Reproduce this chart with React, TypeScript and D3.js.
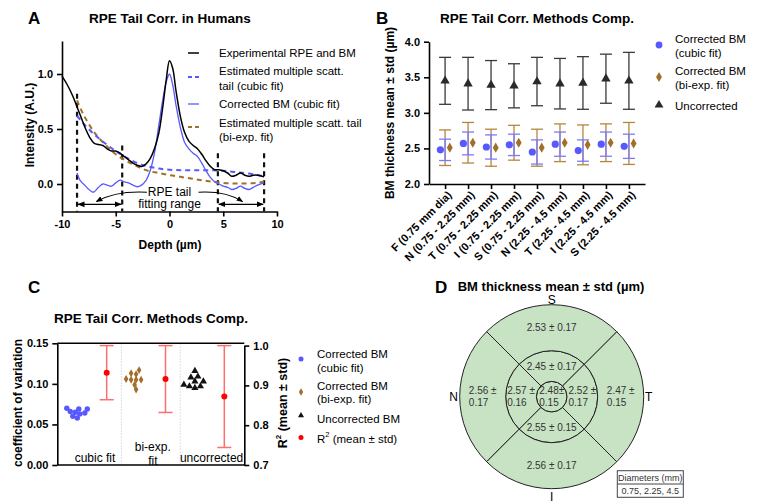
import React, { useEffect, useRef } from "react";
import * as d3 from "d3";

const FONT = "'Liberation Sans', Arial, Helvetica, sans-serif";

const BLUE = "#5858ff";
const BLUE_BAR = "#7a7aff";
const BROWN = "#a26f28";
const BROWN_BAR = "#b5853e";
const RED = "#ff0000";
const RED_BAR = "#ff6e6e";
const GREEN = "#c8e3c4";

// ---- Panel A: intensity profiles vs depth ----
const expDepth = [-10, -9.5, -9, -8.6, -8.2, -7.8, -7.4, -7, -6.6, -6.2, -5.8, -5.4, -5, -4.6, -4.2, -3.8, -3.4, -3, -2.6, -2.2, -1.8, -1.4, -1, -0.6, -0.3, 0, 0.3, 0.6, 1, 1.4, 1.8, 2.2, 2.6, 3, 3.4, 3.8, 4.2, 4.6, 5, 5.4, 5.8, 6.2, 6.6, 7, 7.4, 7.8, 8.2, 8.8];
const expIntensity = [0.98, 0.9, 0.8, 0.7, 0.6, 0.5, 0.42, 0.37, 0.36, 0.35, 0.32, 0.3, 0.3, 0.28, 0.25, 0.22, 0.19, 0.17, 0.16, 0.18, 0.23, 0.32, 0.46, 0.72, 0.95, 1.12, 1.05, 0.85, 0.62, 0.47, 0.39, 0.35, 0.32, 0.27, 0.21, 0.16, 0.13, 0.13, 0.12, 0.1, 0.07, 0.08, 0.1, 0.08, 0.07, 0.08, 0.08, 0.065];

const corrDepth = [-8.6, -8.3, -8, -7.6, -7.1, -6.6, -6.2, -5.8, -5.4, -5, -4.6, -4.2, -3.8, -3.4, -3, -2.6, -2.2, -1.8, -1.4, -1, -0.6, -0.3, 0, 0.3, 0.6, 1, 1.4, 1.8, 2.2, 2.6, 3, 3.4, 3.8, 4.2, 4.6, 5, 5.4, 5.8, 6.2, 6.6, 7, 7.4, 7.8, 8.2, 8.8];
const corrIntensity = [0.1, 0.03, 0.0, -0.04, -0.075, -0.03, 0.0, -0.01, -0.02, 0.01, 0.035, 0.02, 0.01, -0.01, -0.025, -0.01, 0.03, 0.12, 0.28, 0.53, 0.78, 0.93, 1.0, 0.9, 0.72, 0.52, 0.38, 0.32, 0.28, 0.25, 0.19, 0.12, 0.06, 0.02, 0.0, -0.02, -0.03, -0.05, -0.04, -0.02, -0.04, -0.05, -0.03, -0.01, 0.01];

const tailDepth = [-8.6, -8, -7, -6, -5, -4, -3, -2, -1, 0, 1, 2, 3, 4, 5, 6, 7, 8, 8.8];
const cubicTail = [0.62, 0.55, 0.45, 0.37, 0.3, 0.24, 0.19, 0.16, 0.14, 0.13, 0.125, 0.125, 0.125, 0.125, 0.12, 0.11, 0.1, 0.085, 0.07];
const biexpTail = [0.76, 0.63, 0.47, 0.36, 0.27, 0.21, 0.16, 0.12, 0.1, 0.08, 0.065, 0.05, 0.035, 0.02, 0.01, 0.005, 0.005, 0.01, 0.02];

const fitRanges = [[-8.6, -4.4], [4.5, 8.8]];
const fitMarkerTop = [0.82, 0.35, 0.28, 0.28];

// ---- Panel B / D: BM thickness per ETDRS region (µm) ----
const regions = ["F (0.75 mm dia)", "N (0.75 - 2.25 mm)", "T (0.75 - 2.25 mm)", "I (0.75 - 2.25 mm)", "S (0.75 - 2.25 mm)", "N (2.25 - 4.5 mm)", "T (2.25 - 4.5 mm)", "I (2.25 - 4.5 mm)", "S (2.25 - 4.5 mm)"];
const cubicMean = [2.48, 2.57, 2.52, 2.55, 2.45, 2.56, 2.47, 2.56, 2.53];
const cubicStd = [0.15, 0.16, 0.17, 0.15, 0.17, 0.17, 0.15, 0.17, 0.17];
const biexpMean = [2.51, 2.58, 2.51, 2.58, 2.51, 2.58, 2.55, 2.58, 2.57];
const biexpStd = [0.25, 0.285, 0.26, 0.245, 0.26, 0.265, 0.28, 0.265, 0.295];
const uncMean = [3.45, 3.41, 3.39, 3.38, 3.44, 3.41, 3.42, 3.48, 3.45];
const uncStd = [0.33, 0.37, 0.345, 0.31, 0.34, 0.355, 0.37, 0.345, 0.4];

// ---- Panel C: coefficient of variation + R² ----
const methods = ["cubic fit", "bi-exp. fit", "uncorrected"];
const cvCubic = [0.058, 0.069, 0.07, 0.064, 0.063, 0.069, 0.065, 0.066, 0.06];
const cvBiexp = [0.112, 0.117, 0.113, 0.099, 0.106, 0.105, 0.105, 0.105, 0.093];
const cvUnc = [0.116, 0.109, 0.108, 0.103, 0.103, 0.099, 0.097, 0.097, 0.095];
const r2Mean = [0.932, 0.916, 0.872];
const r2Std = [0.068, 0.084, 0.128];

const diameters = [0.75, 2.25, 4.5];

const styleAxis = (g, size = 11) => {
    g.attr("font-family", FONT).attr("font-size", size).attr("font-weight", "bold");
    g.selectAll("path.domain").attr("stroke", "#000").attr("stroke-width", 1.6);
    g.selectAll(".tick line").attr("stroke", "#000").attr("stroke-width", 1.6);
    g.selectAll(".tick text").attr("fill", "#000");
};

const addText = (g, x, y, str, size, opts = {}) => {
    return g
        .append("text")
        .attr("x", x)
        .attr("y", y)
        .attr("font-family", FONT)
        .attr("font-size", size)
        .attr("font-weight", opts.bold ? "bold" : "normal")
        .attr("text-anchor", opts.anchor || "start")
        .attr("dominant-baseline", "central")
        .attr("fill", opts.fill || "#000")
        .text(str);
};

// simple beeswarm, like the column scatter of the original
const swarmX = (vals, y, cx, r) => {
    const order = d3.range(vals.length).sort((a, b) => vals[a] - vals[b]);
    const placed = [];
    const xs = new Array(vals.length);
    order.forEach((i) => {
        const py = y(vals[i]);
        let off = 0;
        for (let k = 0; k < 400; k++) {
            const o = (k % 2 === 0 ? 1 : -1) * Math.ceil(k / 2) * 0.5;
            const ok = placed.every((p) => (p.x - (cx + o)) ** 2 + (p.y - py) ** 2 >= (2 * r) ** 2);
            if (ok) {
                off = o;
                break;
            }
        }
        xs[i] = cx + off;
        placed.push({ x: cx + off, y: py });
    });
    return xs;
};

const drawPanelA = (svg) => {
    const g = svg.append("g");
    const x = d3.scaleLinear().domain([-10, 10]).range([62, 277]);
    const y = d3.scaleLinear().domain([-0.25, 1.3]).range([211.5, 41]);

    addText(g, 28, 18, "A", 17, { bold: true });
    addText(g, 170, 18, "RPE Tail Corr. in Humans", 13.5, { bold: true, anchor: "middle" });

    const gx = g
        .append("g")
        .attr("transform", `translate(0,${y(-0.25)})`)
        .call(d3.axisBottom(x).tickValues([-10, -5, 0, 5, 10]).tickSize(5).tickSizeOuter(0).tickPadding(4).tickFormat((d) => String(d)));
    styleAxis(gx);
    const gy = g
        .append("g")
        .attr("transform", `translate(${x(-10)},0)`)
        .call(d3.axisLeft(y).tickValues([0, 0.5, 1]).tickSize(5).tickSizeOuter(0).tickPadding(4).tickFormat(d3.format(".1f")));
    styleAxis(gy);

    addText(g, 170, 245, "Depth (µm)", 12, { bold: true, anchor: "middle" });
    addText(g, 0, 0, "Intensity (A.U.)", 12, { bold: true, anchor: "middle" }).attr("transform", "translate(30,125) rotate(-90)");

    const line = d3.line().curve(d3.curveCatmullRom.alpha(0.5));
    const pts = (xs, ys) => xs.map((d, i) => [x(d), y(ys[i])]);

    // fitting range markers
    const markerX = fitRanges.flat();
    markerX.forEach((d, i) => {
        g.append("line")
            .attr("x1", x(d)).attr("x2", x(d))
            .attr("y1", y(fitMarkerTop[i])).attr("y2", y(-0.25))
            .attr("stroke", "#111").attr("stroke-width", 2.2).attr("stroke-dasharray", "5,4");
    });

    g.append("path").attr("d", line(pts(tailDepth, biexpTail))).attr("fill", "none").attr("stroke", BROWN).attr("stroke-width", 2).attr("stroke-dasharray", "5,4");
    g.append("path").attr("d", line(pts(tailDepth, cubicTail))).attr("fill", "none").attr("stroke", BLUE).attr("stroke-width", 2).attr("stroke-dasharray", "5,4");
    g.append("path").attr("d", line(pts(corrDepth, corrIntensity))).attr("fill", "none").attr("stroke", BLUE).attr("stroke-width", 1.3);
    g.append("path").attr("d", line(pts(expDepth, expIntensity))).attr("fill", "none").attr("stroke", "#000").attr("stroke-width", 1.5);

    // arrows
    const defs = svg.append("defs");
    defs.append("marker")
        .attr("id", "arrA").attr("viewBox", "0 0 10 10").attr("refX", 9).attr("refY", 5)
        .attr("markerWidth", 6).attr("markerHeight", 6).attr("orient", "auto-start-reverse")
        .append("path").attr("d", "M0,1 L10,5 L0,9 Z").attr("fill", "#000");

    const arrowY = y(-0.185);
    fitRanges.forEach(([a, b]) => {
        g.append("line")
            .attr("x1", x(a) + 1).attr("x2", x(b) - 1).attr("y1", arrowY).attr("y2", arrowY)
            .attr("stroke", "#000").attr("stroke-width", 1.2)
            .attr("marker-start", "url(#arrA)").attr("marker-end", "url(#arrA)");
    });
    addText(g, x(0), y(-0.07), "RPE tail", 12, { anchor: "middle" });
    addText(g, x(0), y(-0.185), "fitting range", 12, { anchor: "middle" });
    const curveL = d3.path();
    curveL.moveTo(x(-2.1), y(-0.075));
    curveL.quadraticCurveTo(x(-5), y(-0.06), x(-6.8), y(-0.16));
    const curveR = d3.path();
    curveR.moveTo(x(2.7), y(-0.075));
    curveR.quadraticCurveTo(x(5.2), y(-0.06), x(6.8), y(-0.16));
    [curveL, curveR].forEach((p) => {
        g.append("path").attr("d", p.toString()).attr("fill", "none").attr("stroke", "#000").attr("stroke-width", 1.1).attr("marker-end", "url(#arrA)");
    });

    // legend
    const lg = g.append("g");
    const sample = (yy, color, dashed, w) =>
        lg.append("line").attr("x1", 188).attr("x2", 199).attr("y1", yy).attr("y2", yy)
            .attr("stroke", color).attr("stroke-width", w).attr("stroke-dasharray", dashed ? "4,3" : null);
    sample(53, "#000", false, 1.5);
    addText(lg, 219, 53, "Experimental RPE and BM", 11.5);
    sample(77, BLUE, true, 2);
    addText(lg, 219, 71, "Estimated multiple scatt.", 11.5);
    addText(lg, 219, 86, "tail (cubic fit)", 11.5);
    sample(104, BLUE, false, 1.3);
    addText(lg, 219, 104, "Corrected BM (cubic fit)", 11.5);
    sample(127, BROWN, true, 2);
    addText(lg, 219, 123, "Estimated multiple scatt. tail", 11.5);
    addText(lg, 219, 137, "(bi-exp. fit)", 11.5);
};

const drawPanelB = (svg) => {
    const g = svg.append("g");
    const x = d3.scalePoint().domain(regions).range([429, 645]).padding(0.7);
    const y = d3.scaleLinear().domain([2, 4]).range([184, 41.7]);

    addText(g, 376, 18, "B", 17, { bold: true });
    addText(g, 537, 18, "RPE Tail Corr. Methods Comp.", 13.5, { bold: true, anchor: "middle" });

    const gx = g.append("g").attr("transform", `translate(0,${y(2)})`)
        .call(d3.axisBottom(x).tickSize(5).tickSizeOuter(0));
    styleAxis(gx, 11);
    gx.selectAll(".tick text")
        .attr("x", 0).attr("y", 0).attr("dy", "0.35em")
        .attr("text-anchor", "end")
        .attr("transform", "translate(4,9) rotate(-45)");
    const gy = g.append("g").attr("transform", `translate(429,0)`)
        .call(d3.axisLeft(y).tickValues([2, 2.5, 3, 3.5, 4]).tickSize(5).tickSizeOuter(0).tickPadding(4).tickFormat(d3.format(".1f")));
    styleAxis(gy);
    addText(g, 0, 0, "BM thickness mean ± std (µm)", 12, { bold: true, anchor: "middle" }).attr("transform", "translate(390,113) rotate(-90)");

    const errBar = (cx, m, s, color, w) => {
        const eg = g.append("g").attr("stroke", color).attr("stroke-width", w);
        eg.append("line").attr("x1", cx).attr("x2", cx).attr("y1", y(m - s)).attr("y2", y(m + s));
        [m - s, m + s].forEach((v) => eg.append("line").attr("x1", cx - 6).attr("x2", cx + 6).attr("y1", y(v)).attr("y2", y(v)));
    };

    regions.forEach((r, i) => {
        const cx = x(r);
        errBar(cx, uncMean[i], uncStd[i], "#3a3a3a", 1.3);
        errBar(cx, biexpMean[i], biexpStd[i], BROWN_BAR, 1.3);
        errBar(cx, cubicMean[i], cubicStd[i], BLUE_BAR, 1.3);
        g.append("path").attr("d", d3.symbol(d3.symbolTriangle, 38)()).attr("transform", `translate(${cx},${y(uncMean[i])})`).attr("fill", "#2a2a2a");
        g.append("path").attr("d", d3.symbol(d3.symbolDiamond, 30)()).attr("transform", `translate(${cx + 4.7},${y(biexpMean[i])})`).attr("fill", BROWN);
        g.append("circle").attr("cx", cx - 4.7).attr("cy", y(cubicMean[i])).attr("r", 3.6).attr("fill", BLUE);
    });

    // legend
    g.append("circle").attr("cx", 659).attr("cy", 45).attr("r", 3.4).attr("fill", BLUE);
    addText(g, 675, 39, "Corrected BM", 11.5);
    addText(g, 675, 53, "(cubic fit)", 11.5);
    g.append("path").attr("d", d3.symbol(d3.symbolDiamond, 30)()).attr("transform", "translate(659,77)").attr("fill", BROWN);
    addText(g, 675, 71, "Corrected BM", 11.5);
    addText(g, 675, 84.5, "(bi-exp. fit)", 11.5);
    g.append("path").attr("d", d3.symbol(d3.symbolTriangle, 34)()).attr("transform", "translate(659,105)").attr("fill", "#2a2a2a");
    addText(g, 675, 105.5, "Uncorrected", 11.5);
};

const drawPanelC = (svg) => {
    const g = svg.append("g");
    const cols = ["cubicCV", "cubicR2", "biexpCV", "biexpR2", "uncCV", "uncR2"];
    const x = d3.scalePoint().domain(cols).range([57.3, 244.3]).padding(0.68);
    const yL = d3.scaleLinear().domain([0, 0.15]).range([465, 343.3]);
    const yR = d3.scaleLinear().domain([0.7, 1.0]).range([465, 345.6]);

    addText(g, 28, 287, "C", 17, { bold: true });
    addText(g, 151, 318, "RPE Tail Corr. Methods Comp.", 13.5, { bold: true, anchor: "middle" });

    // group dividers
    const step = x.step();
    [1, 3].forEach((i) => {
        const xx = x(cols[i]) + step / 2;
        g.append("line").attr("x1", xx).attr("x2", xx).attr("y1", 343.3).attr("y2", 465)
            .attr("stroke", "#c8c8c8").attr("stroke-width", 0.8).attr("stroke-dasharray", "1.5,1.5");
    });

    const gl = g.append("g").attr("transform", "translate(57.3,0)")
        .call(d3.axisLeft(yL).tickValues([0, 0.05, 0.1, 0.15]).tickSize(5).tickSizeOuter(0).tickPadding(4).tickFormat(d3.format(".2f")));
    styleAxis(gl);
    const gr = g.append("g").attr("transform", "translate(244.3,0)")
        .call(d3.axisRight(yR).tickValues([0.7, 0.8, 0.9, 1.0]).tickSize(5).tickSizeOuter(0).tickPadding(4).tickFormat(d3.format(".1f")));
    styleAxis(gr);
    g.append("line").attr("x1", 57.3).attr("x2", 244.3).attr("y1", 465).attr("y2", 465).attr("stroke", "#000").attr("stroke-width", 1.6);
    g.append("line").attr("x1", 57.3).attr("x2", 244.3).attr("y1", 343.3).attr("y2", 343.3).attr("stroke", "#000").attr("stroke-width", 1.6);

    addText(g, 0, 0, "coefficient of variation", 12, { bold: true, anchor: "middle" }).attr("transform", "translate(18,403) rotate(-90)");
    const r2Label = addText(g, 0, 0, "", 12.5, { bold: true, anchor: "middle" }).attr("transform", "translate(283,403) rotate(-90)");
    r2Label.append("tspan").text("R");
    r2Label.append("tspan").text("2").attr("font-size", 8).attr("dy", -5);
    r2Label.append("tspan").text(" (mean ± std)").attr("dy", 5);

    // scatter columns
    const xs1 = swarmX(cvCubic, yL, x("cubicCV"), 2.3);
    cvCubic.forEach((v, i) => g.append("circle").attr("cx", xs1[i]).attr("cy", yL(v)).attr("r", 2.7).attr("fill", BLUE));
    const xs2 = swarmX(cvBiexp, yL, x("biexpCV"), 2.5);
    cvBiexp.forEach((v, i) => g.append("path").attr("d", d3.symbol(d3.symbolDiamond, 18)()).attr("transform", `translate(${xs2[i]},${yL(v)})`).attr("fill", BROWN));
    const xs3 = swarmX(cvUnc, yL, x("uncCV"), 2.8);
    cvUnc.forEach((v, i) => g.append("path").attr("d", d3.symbol(d3.symbolTriangle, 22)()).attr("transform", `translate(${xs3[i]},${yL(v)})`).attr("fill", "#111"));

    // R² mean ± std
    ["cubicR2", "biexpR2", "uncR2"].forEach((c, i) => {
        const cx = x(c);
        const eg = g.append("g").attr("stroke", RED_BAR).attr("stroke-width", 1.5);
        eg.append("line").attr("x1", cx).attr("x2", cx).attr("y1", yR(r2Mean[i] - r2Std[i])).attr("y2", yR(r2Mean[i] + r2Std[i]));
        [r2Mean[i] - r2Std[i], r2Mean[i] + r2Std[i]].forEach((v) =>
            eg.append("line").attr("x1", cx - 7).attr("x2", cx + 7).attr("y1", yR(v)).attr("y2", yR(v)));
        g.append("circle").attr("cx", cx).attr("cy", yR(r2Mean[i])).attr("r", 3).attr("fill", RED);
    });

    // method labels
    addText(g, (x("cubicCV") + x("cubicR2")) / 2 + 3, 457.5, methods[0], 12, { anchor: "middle" });
    addText(g, (x("biexpCV") + x("biexpR2")) / 2 + 2, 447, "bi-exp.", 12, { anchor: "middle" });
    addText(g, (x("biexpCV") + x("biexpR2")) / 2 + 2, 460.5, "fit", 12, { anchor: "middle" });
    addText(g, (x("uncCV") + x("uncR2")) / 2 + 2, 457.5, methods[2], 12, { anchor: "middle" });

    // legend
    g.append("circle").attr("cx", 301).attr("cy", 359).attr("r", 2.5).attr("fill", BLUE);
    addText(g, 317, 354, "Corrected BM", 11.5);
    addText(g, 317, 367.5, "(cubic fit)", 11.5);
    g.append("path").attr("d", d3.symbol(d3.symbolDiamond, 16)()).attr("transform", "translate(301,392)").attr("fill", BROWN);
    addText(g, 317, 386, "Corrected BM", 11.5);
    addText(g, 317, 399, "(bi-exp. fit)", 11.5);
    g.append("path").attr("d", d3.symbol(d3.symbolTriangle, 16)()).attr("transform", "translate(301,415.5)").attr("fill", "#111");
    addText(g, 317, 418.5, "Uncorrected BM", 11.5);
    g.append("circle").attr("cx", 301).attr("cy", 437.5).attr("r", 2.5).attr("fill", RED);
    const rl = addText(g, 317, 439, "", 11.5);
    rl.append("tspan").text("R");
    rl.append("tspan").text("2").attr("font-size", 7.5).attr("dy", -5);
    rl.append("tspan").text(" (mean ± std)").attr("dy", 5);
};

const drawPanelD = (svg) => {
    const g = svg.append("g");
    const cx = 551.7;
    const cy = 396.7;
    const rScale = d3.scaleLinear().domain([0, 4.5]).range([0, 92]);
    const [r0, r1, r2] = diameters.map((d) => rScale(d));

    addText(g, 435, 287, "D", 17, { bold: true });
    addText(g, 551, 286, "BM thickness mean ± std (µm)", 13, { bold: true, anchor: "middle" });

    const c = g.append("g").attr("transform", `translate(${cx},${cy})`);
    const arc = d3.arc();
    // quadrant angles, clockwise from 12 o'clock
    const quadAngle = { S: 0, T: Math.PI / 2, I: Math.PI, N: -Math.PI / 2 };
    const regionKey = ["F", "N", "T", "I", "S", "N", "T", "I", "S"];
    const sectors = regions.map((r, i) => {
        if (i === 0) return { i, inner: 0, outer: r0, start: 0, end: 2 * Math.PI };
        const a = quadAngle[regionKey[i]];
        return { i, inner: i < 5 ? r0 : r1, outer: i < 5 ? r1 : r2, start: a - Math.PI / 4, end: a + Math.PI / 4 };
    });
    sectors.forEach((s) => {
        c.append("path")
            .attr("d", arc({ innerRadius: s.inner, outerRadius: s.outer, startAngle: s.start, endAngle: s.end }))
            .attr("fill", GREEN).attr("stroke", "#222").attr("stroke-width", 1);
    });

    sectors.forEach((s) => {
        const i = s.i;
        const m = cubicMean[i].toFixed(2);
        const sd = cubicStd[i].toFixed(2);
        const key = regionKey[i];
        let px = 0;
        let py = 0;
        if (i > 0) {
            [px, py] = arc.centroid({ innerRadius: s.inner, outerRadius: s.outer, startAngle: s.start, endAngle: s.end });
        }
        if (key === "S" || key === "I") {
            addText(c, px, py, `${m} ± ${sd}`, 10, { anchor: "middle", fill: "#333" });
        } else {
            const first = addText(c, px, py - 6.2, i === 0 ? `${m}±` : `${m} ±`, 10, { anchor: "middle", fill: "#333" });
            const bx = first.node().getBBox().x;
            addText(c, bx, py + 6.2, sd, 10, { fill: "#333" });
        }
    });

    addText(g, cx, cy - r2 - 5, "S", 12, { anchor: "middle" });
    addText(g, cx, cy + r2 + 8, "I", 12, { anchor: "middle" });
    addText(g, cx - r2 - 6, cy, "N", 12, { anchor: "middle" });
    addText(g, cx + r2 + 5, cy, "T", 12, { anchor: "middle" });

    // diameters box
    const bx = 617.3;
    const by = 470.7;
    g.append("rect").attr("x", bx).attr("y", by).attr("width", 66).attr("height", 26.6).attr("fill", "#fff").attr("stroke", "#444").attr("stroke-width", 1);
    g.append("line").attr("x1", bx).attr("x2", bx + 66).attr("y1", by + 13.3).attr("y2", by + 13.3).attr("stroke", "#444").attr("stroke-width", 1);
    addText(g, bx + 33, by + 7, "Diameters (mm)", 9, { anchor: "middle", fill: "#333" });
    addText(g, bx + 33, by + 20.3, diameters.join(", "), 9, { anchor: "middle", fill: "#333" });
};

const App = () => {
    const svgRef = useRef(null);

    useEffect(() => {
        const svg = d3.select(svgRef.current);
        svg.selectAll("*").remove();
        drawPanelA(svg);
        drawPanelB(svg);
        drawPanelC(svg);
        drawPanelD(svg);
    });

    return (
        <svg
            ref={svgRef}
            width={760}
            height={504}
            style={{ position: "absolute", left: 0, top: 0, background: "#fff" }}
        />
    );
};

export default App;
